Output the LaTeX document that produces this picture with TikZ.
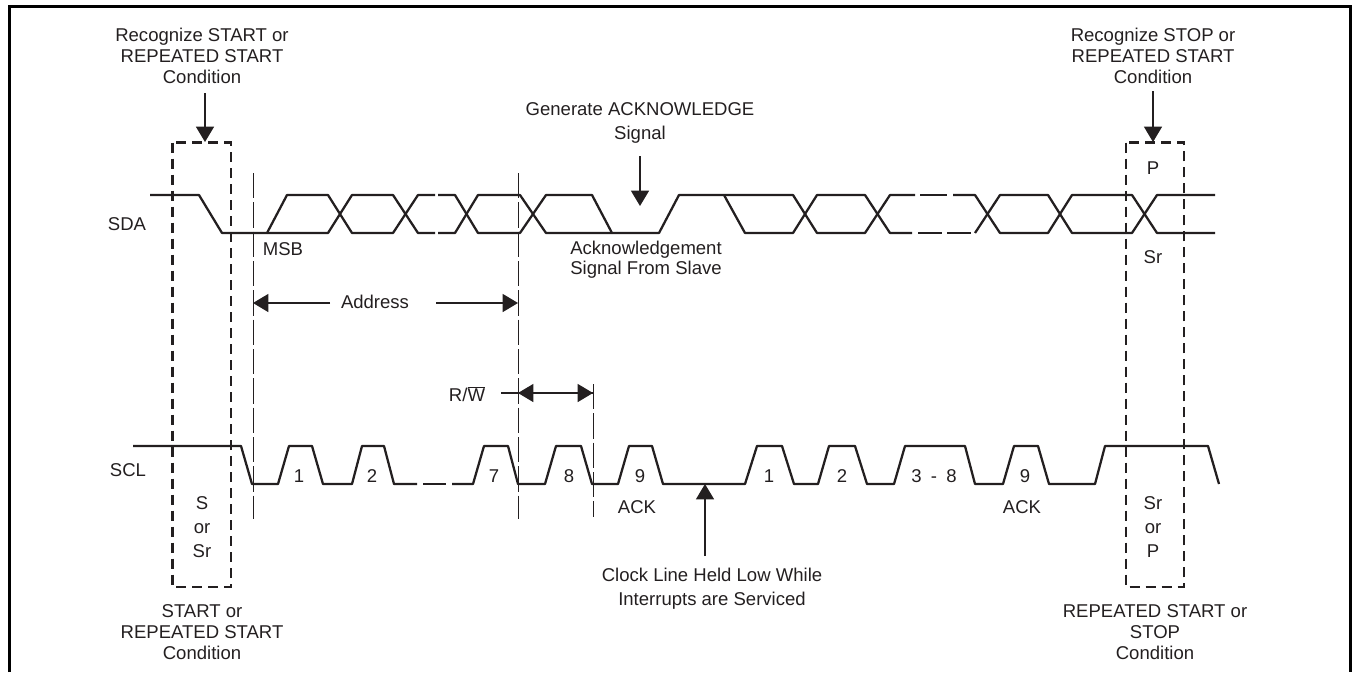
\documentclass[tikz,border=0pt]{standalone}
\usepackage{fontspec}
\setmainfont{Liberation Sans}
\usepackage{xcolor}
\usetikzlibrary{arrows.meta}
\definecolor{ink}{HTML}{231F20}
\tikzset{
  sigline/.style  = {ink,line width=1.7pt,line join=round},
  boxdash/.style  = {ink,line width=2.1pt,dash pattern=on 7.5pt off 4.5pt},
  markline/.style = {ink,line width=0.75pt,dash pattern=on 19pt off 3pt},
  callout/.style  = {-{Triangle[length=11.5pt,width=13.5pt]},ink,line width=0.9pt},
  lbl/.style      = {font=\fontsize{13.9}{15.9}\selectfont,text=ink,align=center,inner sep=0pt},
  numlbl/.style   = {lbl,text height=10pt,text depth=0pt}
}
\begin{document}
\begin{tikzpicture}[x=0.75pt,y=-0.75pt]
  \useasboundingbox (0,0) rectangle (1353,672);
  % frame, open at the bottom
  \draw[black,line width=2.4pt] (9.5,672) -- (9.5,6.5) -- (1350.5,6.5) -- (1350.5,672);
  % SDA
  \draw[sigline] (150,195) -- (199,195) -- (222,233) -- (267,233) -- (287,195) -- (328,195)
    -- (352,233) -- (393,233) -- (418,195) -- (435,195);
  \draw[sigline] (267,233) -- (328,233) -- (352,195) -- (393,195) -- (418,233) -- (435,233);
  \draw[sigline] (438,195) -- (455,195) -- (478,233) -- (520,233) -- (546,195) -- (592,195)
    -- (612,233) -- (659,233) -- (679,195) -- (793,195) -- (817,233) -- (865,233) -- (890,195) -- (915,195);
  \draw[sigline] (438,233) -- (455,233) -- (478,195) -- (520,195) -- (546,233) -- (612,233);
  \draw[sigline] (724,195) -- (745,233) -- (793,233) -- (817,195) -- (865,195) -- (890,233) -- (912,233);
  \draw[sigline] (920,195) -- (947,195);
  \draw[sigline] (918,233) -- (942,233);
  \draw[sigline] (947,233) -- (971,233);
  \draw[sigline] (953,195) -- (975,195) -- (1000,233) -- (1048,233) -- (1072,195) -- (1132,195)
    -- (1157,233) -- (1215,233);
  \draw[sigline] (975,233) -- (1000,195) -- (1048,195) -- (1072,233) -- (1132,233) -- (1157,195) -- (1215,195);
  % SCL
  \draw[sigline] (133,446) -- (241,446) -- (252,484) -- (278,484) -- (289,446) -- (312,446) -- (323,484)
    -- (352,484) -- (362,446) -- (384,446) -- (394,484) -- (417,484);
  \draw[sigline] (423,484) -- (446,484);
  \draw[sigline] (452,484) -- (473,484) -- (484,446) -- (508,446) -- (518,484) -- (545,484) -- (556,446)
    -- (581,446) -- (592,484) -- (618,484) -- (629,446) -- (652,446) -- (663,484) -- (745,484)
    -- (757,446) -- (782,446) -- (794,484) -- (818,484) -- (829,446) -- (855,446) -- (867,484)
    -- (894,484) -- (905,446) -- (965,446) -- (975,484) -- (1003,484) -- (1014,446) -- (1038,446)
    -- (1049,484) -- (1095,484) -- (1105,446) -- (1208,446) -- (1219,484);
  % condition boxes
  \draw[boxdash] (172.7,142.7) rectangle (231,587);
  \draw[boxdash] (1126,142.7) rectangle (1184,587);
  % bit markers
  \draw[markline] (253,173) -- (253,519);
  \draw[markline] (518,173) -- (518,519);
  \draw[markline] (593,384) -- (593,517);
  % labels
  \node[lbl] (recstart) at (202,56) {Recognize START or\\REPEATED START\\Condition};
  \node[lbl] (recstop) at (1153,56) {Recognize STOP or\\REPEATED START\\Condition};
  \node[lbl] (genack) at (640,123) {Generate ACKNOWLEDGE\\[2.2pt]Signal};
  \node[lbl] (sda) at (127,224) {SDA};
  \node[lbl] (scl) at (128,470) {SCL};
  \node[lbl] (msb) at (283,249) {MSB};
  \node[lbl] (ackslave) at (646,260) {Acknowledgement\\[-1pt]Signal From Slave};
  \node[lbl] (address) at (375,302) {Address};
  \node[lbl] (rw) at (467,394) {R/$\overline{\mbox{W}}$};
  \node[lbl] (stopp) at (1153,168) {P};
  \node[lbl] (stopsr) at (1153,257) {Sr};
  \foreach \xpos/\txt/\nm in {299/1/afirst,372/2/asecond,494/7/aseventh,569/8/aeighth,640/9/aninth,
      769/1/dfirst,842/2/dsecond,934/3\enspace-\enspace 8/dmiddle,1025/9/dninth}
    \node[numlbl] (\nm) at (\xpos,476) {\txt};
  \node[lbl] (ackone) at (637,507) {ACK};
  \node[lbl] (acktwo) at (1022,507) {ACK};
  \node[lbl] (startcond) at (202,527) {S\\[2pt]or\\[2pt]Sr};
  \node[lbl] (stopcond) at (1153,527) {Sr\\[2pt]or\\[2pt]P};
  \node[lbl] (startname) at (202,632) {START or\\REPEATED START\\Condition};
  \node[lbl] (stopname) at (1155,632) {REPEATED START or\\STOP\\Condition};
  \node[lbl] (clockheld) at (712,589) {Clock Line Held Low While\\[2.2pt]Interrupts are Serviced};
  % callouts
  \coordinate (starttail) at (205,93);
  \coordinate (starttip) at (205,142);
  \coordinate (stoptail) at (1153,91);
  \coordinate (stoptip) at (1153,142);
  \coordinate (acktail) at (640,156);
  \coordinate (acktip) at (640,206);
  \coordinate (clocktail) at (705,556);
  \coordinate (clocktip) at (705,484);
  \coordinate (addrl) at (253,303);
  \coordinate (addrlt) at (330,303);
  \coordinate (addrr) at (518,303);
  \coordinate (addrrt) at (436,303);
  \coordinate (rwl) at (518,393);
  \coordinate (rwr) at (593,393);
  \coordinate (rwtail) at (501,393);
  \draw[callout] (starttail) -- (starttip);
  \draw[callout] (stoptail) -- (stoptip);
  \draw[callout] (acktail) -- (acktip);
  \draw[callout] (clocktail) -- (clocktip);
  \draw[callout] (addrlt) -- (addrl);
  \draw[callout] (addrrt) -- (addrr);
  \draw[callout] (rwtail) -- (rwr);
  \draw[callout] (rwr) -- (rwl);
\end{tikzpicture}
\end{document}
